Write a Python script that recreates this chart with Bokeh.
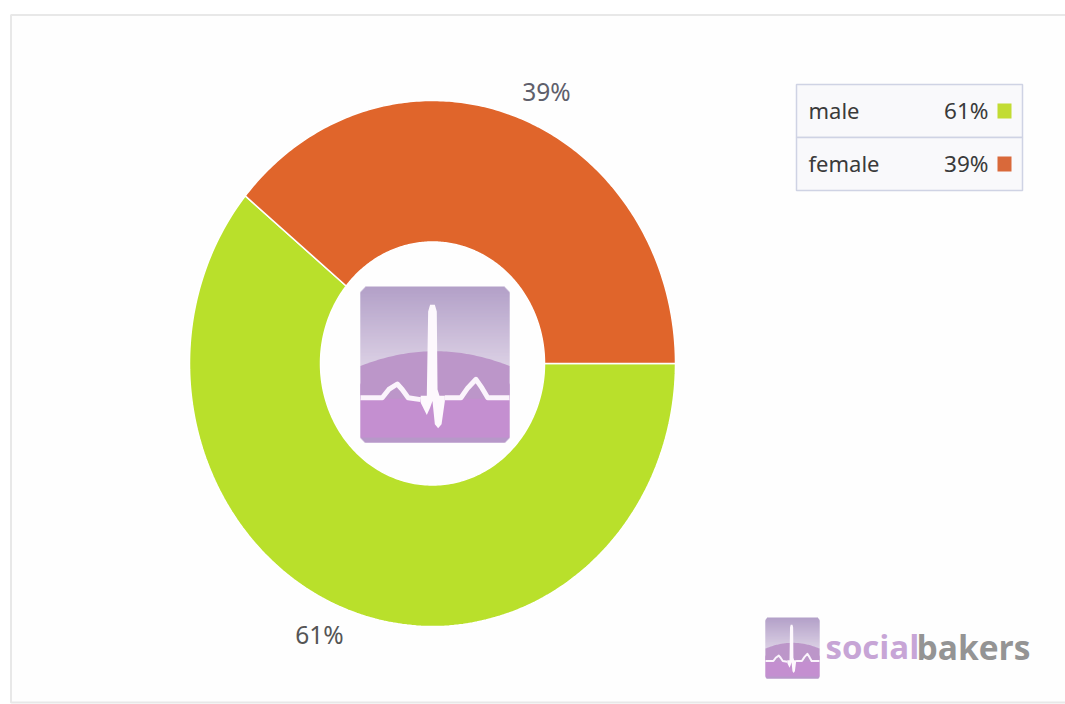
import numpy as np
from bokeh.embed import file_html
from bokeh.models import Range1d
from bokeh.plotting import figure
from bokeh.resources import INLINE
from bokeh.core.properties import value

# Audience split
genders = ["male", "female"]
shares = [61, 39]
slice_colors = ["#b9e02b", "#e0652b"]
swatch_colors = ["#c2dc33", "#d9693a"]
share_labels = [f"{s}%" for s in shares]

W, H = 1065, 704
FONT = "Noto Sans"

p = figure(width=W, height=H, x_range=Range1d(0, W), y_range=Range1d(H, 0),
           output_backend="svg", toolbar_location=None, min_border=0,
           background_fill_color="#ffffff", border_fill_color="#ffffff",
           outline_line_color=None)
p.axis.visible = False
p.grid.visible = False

# Panel frame: hairlines along the top, left and bottom edges
p.quad(left=[10.5], right=[W + 5], top=[14.5], bottom=[702],
       fill_color="#fefefe", line_color="#e8e8e8", line_width=2)

# Elliptical doughnut, clockwise from three o'clock
CX, CY = 432, 363
RX, RY = 243, 263
IRX, IRY = 112, 121.5


def slice_outline(start, stop):
    t = np.radians(np.linspace(start, stop, 200))
    xs = np.r_[CX + RX * np.cos(t), CX + IRX * np.cos(t[::-1])]
    ys = np.r_[CY + RY * np.sin(t), CY + IRY * np.sin(t[::-1])]
    return xs.tolist(), ys.tolist()


bounds = np.cumsum([0] + shares) * 3.6
outlines = [slice_outline(bounds[i], bounds[i + 1]) for i in range(len(shares))]
p.patches([o[0] for o in outlines], [o[1] for o in outlines],
          fill_color=slice_colors, line_color="#ffffff", line_width=1.5)

# Slice labels
p.text([546], [91], text=[share_labels[1]], text_font=value(FONT), text_font_size="24.5px",
       text_color="#5f5f6b", text_align="center", text_baseline="middle")
p.text([319], [634], text=[share_labels[0]], text_font=value(FONT), text_font_size="24.5px",
       text_color="#555555", text_align="center", text_baseline="middle")


def draw_logo(x0, y0, w, h, line_w):
    """Rounded purple tile with a white heartbeat trace, in a unit box."""
    X = lambda u: x0 + np.asarray(u, dtype=float) * w
    Y = lambda v: y0 + np.asarray(v, dtype=float) * h
    # One strip per screen row, each overlapping the next so no seams show
    rows = np.arange(h + 1)
    edges = rows / h
    mids = (edges[:-1] + edges[1:]) / 2
    c = 0.035
    inset = np.maximum(0, c - np.minimum(mids, 1 - mids))
    top = np.array([0xb3, 0xa0, 0xc8])
    low = np.array([0xe4, 0xdb, 0xeb])
    cols = []
    for v in mids:
        if v < 0.62:
            mix = top + (low - top) * (v / 0.62)
        elif v < 0.97:
            mix = np.array([0xc4, 0x8f, 0xd0])
        else:
            mix = np.array([0xb7, 0x98, 0xc9])
        cols.append("#%02x%02x%02x" % tuple(int(a) for a in mix))
    bottoms = np.minimum(rows[1:] + 1, h)
    p.quad(left=X(inset), right=X(1 - inset), top=y0 + rows[:-1], bottom=y0 + bottoms,
           fill_color=cols, line_color=None)
    # Dome behind the trace
    u = np.linspace(0, 1, 60)
    dome = 0.51 - 0.095 * (1 - ((u - 0.5) / 0.5) ** 2)
    p.patch(np.r_[X(u), X([1, 0])], np.r_[Y(dome), Y([0.72, 0.72])],
            fill_color="#bc96c9", line_color=None)
    # Heartbeat trace either side of the spike
    p.line(X([0, 0.146, 0.19, 0.247, 0.28, 0.32, 0.404]),
           Y([0.713, 0.713, 0.66, 0.625, 0.66, 0.713, 0.725]),
           line_color="#fbf4fc", line_width=line_w, line_join="round")
    p.line(X([0.566, 0.674, 0.72, 0.775, 0.815, 0.854, 1]),
           Y([0.713, 0.713, 0.65, 0.595, 0.65, 0.713, 0.713]),
           line_color="#fbf4fc", line_width=line_w, line_join="round")
    p.patch(X([0.454, 0.467, 0.499, 0.512, 0.517, 0.53, 0.566, 0.566, 0.544, 0.521,
               0.499, 0.483, 0.467, 0.445, 0.404, 0.404, 0.445]),
            Y([0.16, 0.117, 0.117, 0.16, 0.66, 0.70, 0.70, 0.735, 0.883, 0.909,
               0.883, 0.734, 0.777, 0.823, 0.745, 0.70, 0.70]),
            fill_color="#fdf8fd", line_color=None)


draw_logo(360, 286, 149, 156, 5)
draw_logo(765, 617, 54, 61, 2)

# Wordmark
p.text([825], [646], text=["social"], text_font=value("Open Sans"), text_font_size="33px",
       text_font_style="bold", text_color="#c7a5d6", text_baseline="middle")
p.text([916], [646], text=["bakers"], text_font=value("Open Sans"), text_font_size="33.5px",
       text_font_style="bold", text_color="#949494", text_baseline="middle")

# Legend table
LEFT, RIGHT = 796, 1022
rows = [(84, 137), (137, 190)]
p.quad(left=[LEFT] * 2, right=[RIGHT] * 2, top=[r[0] for r in rows], bottom=[r[1] for r in rows],
       fill_color="#f9f9fb", line_color="#cfd3e4", line_width=1.5)
centers = [(a + b) / 2 for a, b in rows]
p.text([808] * 2, [c - 1 for c in centers], text=genders, text_font=value(FONT), text_font_size="22px",
       text_color="#3a3a3a", text_baseline="middle")
p.text([988] * 2, [c - 1 for c in centers], text=share_labels, text_font=value(FONT), text_font_size="22.5px",
       text_color="#3a3a3a", text_align="right", text_baseline="middle")
p.quad(left=[997] * 2, right=[1011] * 2, top=[c - 7.5 for c in centers], bottom=[c + 7.5 for c in centers],
       fill_color=swatch_colors, line_color=None)

open("out.html", "w").write(file_html(p, INLINE))
